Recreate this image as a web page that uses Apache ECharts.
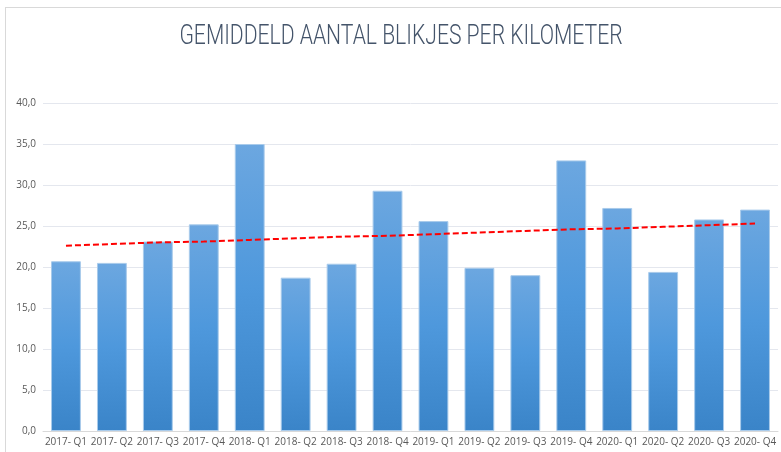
<!DOCTYPE html>
<html>
<head>
<meta charset="utf-8">
<script src="https://cdn.jsdelivr.net/npm/echarts@6/dist/echarts.min.js"></script>
<style>
  html, body { margin: 0; padding: 0; background: #fff; }
  #frame {
    position: absolute; left: 5px; top: 7px; width: 790px; height: 460px;
    border: 1px solid #d9d9d9; box-sizing: border-box;
  }
  #main { width: 788px; height: 458px; }
</style>
</head>
<body>
<div id="frame"><div id="main"></div></div>
<script>
// categories (kwartalen)
const kwartalen = [
  '2017- Q1', '2017- Q2', '2017- Q3', '2017- Q4',
  '2018- Q1', '2018- Q2', '2018- Q3', '2018- Q4',
  '2019- Q1', '2019- Q2', '2019- Q3', '2019- Q4',
  '2020- Q1', '2020- Q2', '2020- Q3', '2020- Q4'
];

// gemiddeld aantal blikjes per km
const blikjes = [
  20.7, 20.5, 23.1, 25.2,
  35.0, 18.7, 20.4, 29.3,
  25.6, 19.9, 19.0, 33.0,
  27.2, 19.4, 25.8, 27.0
];

const trend = [
  22.6, 22.8, 23.0, 23.1,
  23.3, 23.5, 23.7, 23.8,
  24.0, 24.2, 24.4, 24.6,
  24.7, 24.9, 25.1, 25.3
];

let mycharts = echarts.init(document.getElementById('main'));

let option = {
  animation: false,
  // smalle titel: tekst horizontaal wat ingedrukt
  graphic: [
    {
      type: 'text',
      x: 395,
      y: 15,
      scaleX: 0.755,
      style: {
        text: 'GEMIDDELD AANTAL BLIKJES PER KILOMETER',
        font: '300 28px Roboto, sans-serif',
        fill: '#44546a',
        align: 'center',
        verticalAlign: 'top'
      }
    }
  ],
  grid: {
    left: 37,
    right: 16,
    top: 95,
    bottom: 35
  },
  xAxis: {
    type: 'category',
    data: kwartalen,
    axisLine: { lineStyle: { color: '#d9d9d9' } },
    axisTick: { show: false },
    axisLabel: {
      color: '#595959',
      fontSize: 10,
      fontFamily: 'Open Sans',
      margin: 6,
      interval: 0
    }
  },
  yAxis: {
    type: 'value',
    min: 0,
    max: 40,
    interval: 5,
    axisLine: { show: false },
    axisTick: { show: false },
    splitLine: { lineStyle: { color: '#e4e7ee' } },
    axisLabel: {
      color: '#595959',
      fontSize: 10,
      fontFamily: 'Open Sans',
      margin: 7,
      formatter: function (value) {
        return value.toFixed(1).replace('.', ',');
      }
    }
  },
  series: [
    {
      type: 'bar',
      data: blikjes,
      barCategoryGap: '35%',
      itemStyle: {
        borderColor: '#a9cbeb',
        borderWidth: 1,
        color: new echarts.graphic.LinearGradient(0, 0, 0, 1, [
          { offset: 0, color: '#6ca7e0' },
          { offset: 0.5, color: '#4e98dc' },
          { offset: 1, color: '#3a84c8' }
        ])
      }
    },
    {
      type: 'line',
      data: trend,
      symbol: 'none',
      z: 5,
      lineStyle: {
        color: '#ff0000',
        width: 2,
        type: [6, 3]
      }
    }
  ]
};

mycharts.setOption(option);
</script>
</body>
</html>
